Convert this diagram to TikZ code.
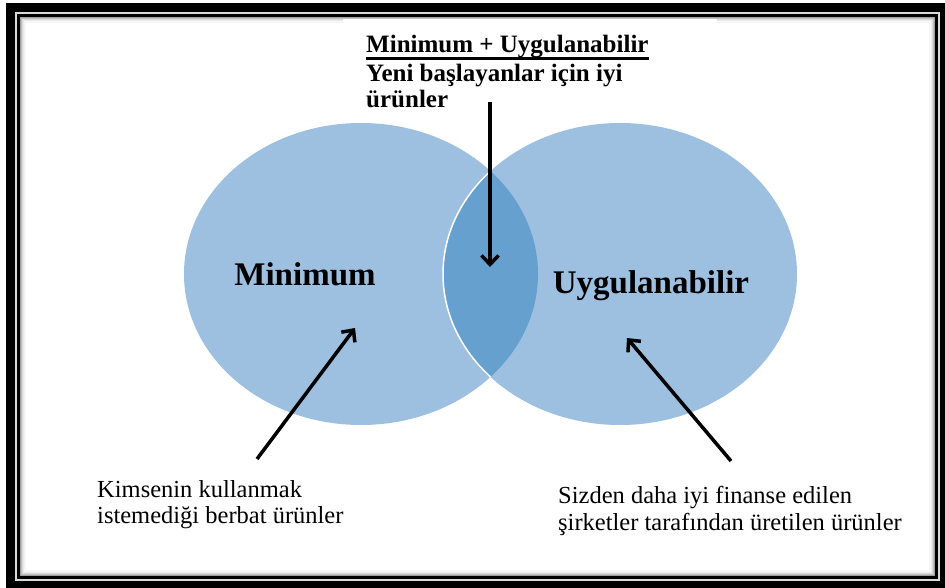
\documentclass[tikz,border=0pt]{standalone}
\usepackage{fontspec}
\setmainfont{Liberation Serif}
\usetikzlibrary{arrows.meta}
\definecolor{venn}{HTML}{9DBFE0}
\definecolor{lens}{HTML}{66A0CF}
\begin{document}
\begin{tikzpicture}[x=1pt,y=-1pt,
  arr/.style={line width=3.5pt,-{Straight Barb[length=9pt,width=17pt]}},
  bigbold/.style={font=\fontsize{33}{38}\selectfont\bfseries,inner sep=0pt,anchor=base},
  ttl/.style={font=\fontsize{25}{28}\selectfont\bfseries,inner sep=0pt,anchor=base west},
  lbl/.style={font=\fontsize{24.5}{26}\selectfont,inner sep=0pt,anchor=base west},
  ell/.style={x radius=177pt,y radius=151pt}]
\useasboundingbox (0,0) rectangle (945,588);
\fill[white] (0,0) rectangle (945,588);
% frame
\fill[black] (6,3) rectangle (945,588);
\fill[gray!30] (15,12) rectangle (940,581);
\fill[black] (17,14) rectangle (938,579);
\fill[gray!75] (20,17) rectangle (935,576);
\fill[gray!50] (21,18) rectangle (934,575);
\fill[gray!30] (22,19) rectangle (933,574);
\fill[gray!16] (23,20) rectangle (932,573);
\fill[gray!7] (24,21) rectangle (931,572);
\fill[white] (26,23) rectangle (929,570);
\fill[white] (343,19) rectangle (717,120);
% venn
\fill[venn] (361,274) ellipse[ell];
\fill[venn] (620,274) ellipse[ell];
\begin{scope}
  \clip (361,274) ellipse[ell];
  \fill[lens] (620,274) ellipse[ell];
  \draw[white,line width=1.5pt] (620,274) ellipse[ell];
\end{scope}
% labels
\node[bigbold] (mn) at (305,285) {Minimum};
\node[bigbold] (ug) at (651,293) {Uygulanabilir};
\node[ttl] (t1) at (366,53) {Minimum + Uygulanabilir};
\draw[line width=2.2pt] ([yshift=-5.5pt]t1.base west) -- ([yshift=-5.5pt]t1.base east);
\node[ttl] (t2) at (366,82) {Yeni başlayanlar için iyi};
\node[ttl] (t3) at (366,108) {ürünler};
\node[lbl] (l1) at (97,497) {Kimsenin kullanmak};
\node[lbl] (l2) at (97,523) {istemediği berbat ürünler};
\node[lbl] (r1) at (558,503) {Sizden daha iyi finanse edilen};
\node[lbl] (r2) at (558,530) {şirketler tarafından üretilen ürünler};
% arrows
\coordinate (a1s) at (490,102);
\coordinate (a1e) at (490,267);
\coordinate (a2s) at (257,459);
\coordinate (a2e) at (355,328);
\coordinate (a3s) at (731,461);
\coordinate (a3e) at (627,338);
\draw[arr] (a1s) -- (a1e);
\draw[arr] (a2s) -- (a2e);
\draw[arr] (a3s) -- (a3e);
\end{tikzpicture}
\end{document}
